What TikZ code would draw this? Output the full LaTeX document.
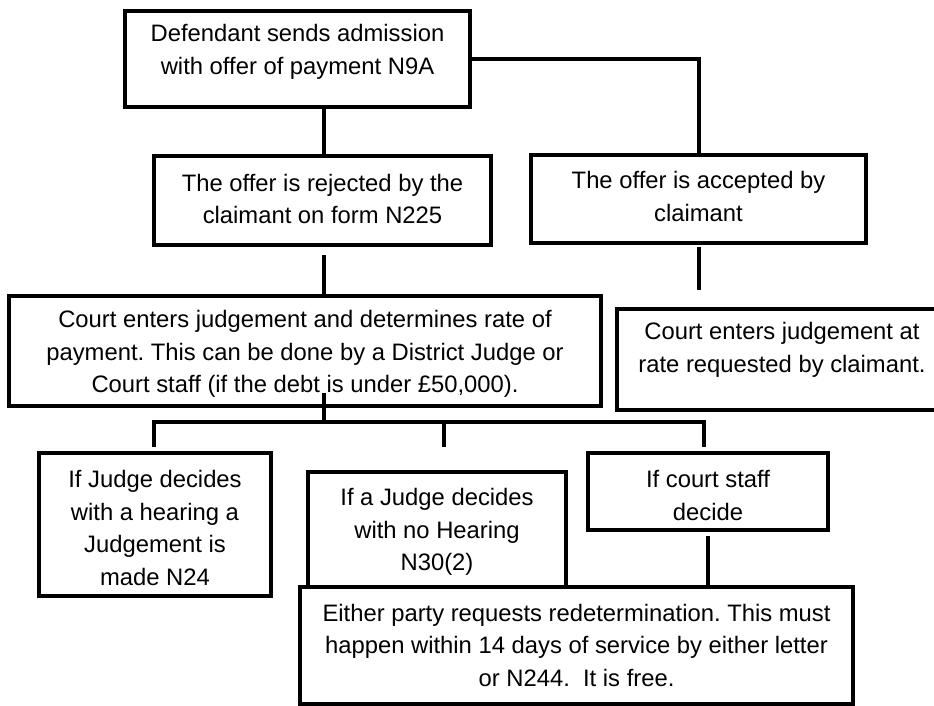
\documentclass[tikz,border=0pt]{standalone}
\usepackage{fontspec}
\setmainfont{Liberation Sans}
\frenchspacing
\begin{document}
\begin{tikzpicture}[x=1pt,y=-1pt]
\tikzset{
  box/.style={draw=black, line width=3.2pt, fill=white, inner sep=0pt, rectangle},
  txt/.style={align=center, inner sep=0pt, font=\fontsize{23.8}{32.5}\selectfont},
  link/.style={line width=3.2pt, draw=black}
}
\useasboundingbox (0,0) rectangle (934,706);
\clip (0,0) rectangle (934,706);
\fill[white] (0,0) rectangle (934,706);
% boxes
\node[box, minimum width=345pt, minimum height=96pt] (top) at (297.5,59) {};
\node[box, minimum width=337pt, minimum height=89pt] (rej) at (322.5,200.5) {};
\node[box, minimum width=335pt, minimum height=88pt] (acc) at (698.5,199) {};
\node[box, minimum width=592pt, minimum height=110pt] (court) at (305,351) {};
\node[box, minimum width=330pt, minimum height=101pt] (rate) at (782,359.5) {};
\node[box, minimum width=232pt, minimum height=143pt] (hear) at (155,524.5) {};
\node[box, minimum width=258pt, minimum height=115pt] (nohear) at (437,529.5) {};
\node[box, minimum width=240pt, minimum height=77pt] (staff) at (708,491.5) {};
\node[box, minimum width=553pt, minimum height=117pt] (redet) at (576.5,645.5) {};
% texts
\node[txt] (top-t) at (297.5,52) {Defendant sends admission\\with offer of payment N9A};
\node[txt] (rej-t) at (322.5,199) {The offer is rejected by the\\claimant on form N225};
\node[txt] (acc-t) at (698.5,196.5) {The offer is accepted by\\claimant};
\node[txt] (court-t) at (305,354) {Court enters judgement and determines rate of\\payment. This can be done by a District Judge or\\Court staff (if the debt is under £50,000).};
\node[txt] (rate-t) at (782,350) {Court enters judgement at\\rate requested by claimant.};
\node[txt] (hear-t) at (155,528) {If Judge decides\\with a hearing a\\Judgement is\\made N24};
\node[txt] (nohear-t) at (437,532) {If a Judge decides\\with no Hearing\\N30(2)};
\node[txt] (staff-t) at (708,495.5) {If court staff\\decide};
\node[txt] (redet-t) at (576.5,645) {Either party requests redetermination. This must\\happen within 14 days of service by either letter\\or N244.\ \ It is free.};
% connectors
\draw[link] ([xshift=26.5pt]top.south) -- ([xshift=1.5pt]rej.north);
\draw[link] (top.east) -| ([xshift=0.5pt]acc.north);
\coordinate (rejc) at (324,255);
\draw[link] (rejc) -- (rejc |- court.north);
\coordinate (acca) at (699,247);
\coordinate (accb) at (699,290);
\draw[link] (acca) -- (accb);
\coordinate (cb1) at (324,393);
\coordinate (bus) at (324,422);
\draw[link] (cb1) -- (bus);
\coordinate (dL) at (154,447);
\coordinate (dM) at (444,447);
\coordinate (dR) at (704,447);
\draw[link] (dL) -- (dL |- bus) -- (dR |- bus) -- (dR);
\draw[link] (dM) -- (dM |- bus);
\coordinate (s1) at (708,536);
\draw[link] (s1) -- (s1 |- redet.north);
\end{tikzpicture}
\end{document}
